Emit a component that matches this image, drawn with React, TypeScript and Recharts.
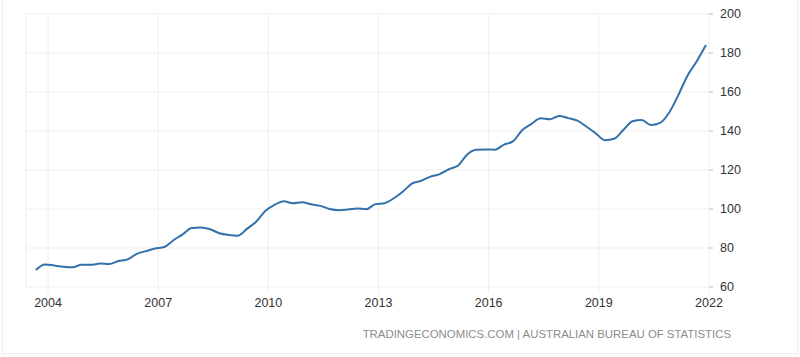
import React from 'react'
import { LineChart, Line, XAxis, YAxis, CartesianGrid } from 'recharts'

// quarterly readings, dated on the first day of the quarter's last month
const quarters = [
  '2003-09', '2003-12',
  '2004-03', '2004-06', '2004-09', '2004-12',
  '2005-03', '2005-06', '2005-09', '2005-12',
  '2006-03', '2006-06', '2006-09', '2006-12',
  '2007-03', '2007-06', '2007-09', '2007-12',
  '2008-03', '2008-06', '2008-09', '2008-12',
  '2009-03', '2009-06', '2009-09', '2009-12',
  '2010-03', '2010-06', '2010-09', '2010-12',
  '2011-03', '2011-06', '2011-09', '2011-12',
  '2012-03', '2012-06', '2012-09', '2012-12',
  '2013-03', '2013-06', '2013-09', '2013-12',
  '2014-03', '2014-06', '2014-09', '2014-12',
  '2015-03', '2015-06', '2015-09', '2015-12',
  '2016-03', '2016-06', '2016-09', '2016-12',
  '2017-03', '2017-06', '2017-09', '2017-12',
  '2018-03', '2018-06', '2018-09', '2018-12',
  '2019-03', '2019-06', '2019-09', '2019-12',
  '2020-03', '2020-06', '2020-09', '2020-12',
  '2021-03', '2021-06', '2021-09', '2021-12',
]

const values = [
  68.7, 71.6,
  71.0, 70.4, 70.1, 71.4,
  71.4, 72.0, 71.8, 73.3,
  74.2, 77.0, 78.4, 79.7,
  80.5, 84.0, 87.0, 90.3,
  90.5, 89.6, 87.6, 86.7,
  86.3, 89.8, 93.5, 99.0,
  102.1, 104.0, 102.9, 103.4,
  102.4, 101.6, 100.0, 99.4,
  99.7, 100.3, 99.9, 102.5,
  103.0, 105.5, 109.0, 113.1,
  114.5, 116.6, 117.9, 120.4,
  122.3, 128.0, 130.4, 130.5,
  130.4, 133.0, 134.8, 140.5,
  143.7, 146.5, 146.0, 147.7,
  146.6, 145.3, 142.2, 138.8,
  135.3, 136.0, 140.5, 145.0,
  145.6, 143.1, 144.2, 149.5,
  158.5, 168.5, 175.8, 184.1,
]

const yearTicks = [2004, 2007, 2010, 2013, 2016, 2019, 2022]
const valueTicks = [60, 80, 100, 120, 140, 160, 180, 200]

const toYear = (q: string) => {
  const [y, m] = q.split('-').map(Number)
  return y + (m - 1) / 12
}

const data = quarters.map((q, i) => ({ t: toYear(q), value: values[i] }))

const FONT = '"Liberation Sans", Arial, sans-serif'

export default function App() {
  return (
    <div style={{ position: 'relative', width: 800, height: 357, background: '#fff' }}>
      <style>{'body{margin:0}'}</style>
      <div
        style={{
          position: 'absolute',
          left: 2,
          top: -2,
          width: 796,
          height: 356,
          border: '1px solid #ececec',
          boxSizing: 'border-box',
        }}
      />
      <LineChart
        width={800}
        height={357}
        data={data}
        margin={{ top: 14, right: 41, bottom: 40, left: 26 }}
      >
        <CartesianGrid stroke="#efefef" vertical horizontal />
        <XAxis
          dataKey="t"
          type="number"
          domain={[2003.4, 2022]}
          ticks={yearTicks}
          axisLine={false}
          tickLine={{ stroke: '#efefef' }}
          tickSize={6}
          height={30}
          tick={{ fill: '#333', fontSize: 12.5, fontFamily: FONT, dy: 3 }}
          allowDataOverflow
        />
        <YAxis
          orientation="right"
          domain={[60, 200]}
          ticks={valueTicks}
          axisLine={false}
          tickLine={{ stroke: '#bbb' }}
          tickSize={4}
          width={50}
          tick={{ fill: '#333', fontSize: 12.5, fontFamily: FONT, textAnchor: 'start', dx: 5 }}
        />
        <Line
          type="monotone"
          dataKey="value"
          stroke="#3470aa"
          strokeWidth={2}
          dot={false}
          isAnimationActive={false}
        />
      </LineChart>
      <div
        style={{
          position: 'absolute',
          right: 69,
          top: 328,
          fontFamily: FONT,
          fontSize: 11.4,
          color: '#8c8c8c',
          whiteSpace: 'nowrap',
        }}
      >
        TRADINGECONOMICS.COM | AUSTRALIAN BUREAU OF STATISTICS
      </div>
    </div>
  )
}
